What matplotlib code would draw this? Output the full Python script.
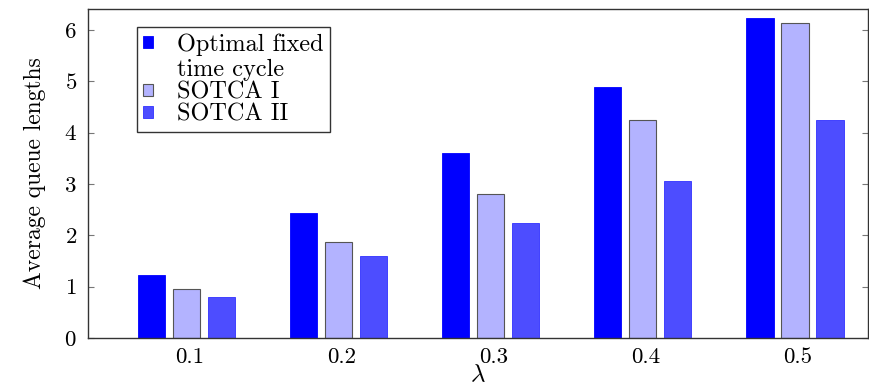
import numpy as np
import matplotlib.pyplot as plt
from matplotlib.patches import Rectangle
from matplotlib.legend_handler import HandlerPatch

plt.rcParams['font.family'] = 'serif'
plt.rcParams['font.serif'] = ['cmr10', 'DejaVu Serif']
plt.rcParams['mathtext.fontset'] = 'cm'
plt.rcParams['axes.formatter.use_mathtext'] = True

lam = [0.1, 0.2, 0.3, 0.4, 0.5]
optimal_fixed = [1.22, 2.43, 3.61, 4.89, 6.24]
sotca_1 = [0.96, 1.87, 2.81, 4.24, 6.13]
sotca_2 = [0.79, 1.59, 2.24, 3.05, 4.24]
labels = ["Optimal fixed\ntime cycle", "SOTCA I", "SOTCA II"]

fig = plt.figure(figsize=(8.69, 3.87), dpi=100)
ax = fig.add_axes([88 / 869, 49 / 387, 780 / 869, 329 / 387])

x = np.array(lam)
w = 0.0178
off = 0.023
b1 = ax.bar(x - off, optimal_fixed, w, color='#0000ff', edgecolor='#0000ff', lw=0.6, label=labels[0])
b2 = ax.bar(x, sotca_1, w, color='#b3b3ff', edgecolor='#555555', lw=0.8, label=labels[1])
b3 = ax.bar(x + off, sotca_2, w, color='#4d4dff', edgecolor='#3030ff', lw=0.6, label=labels[2])

ax.set_xlim(0.0352, 0.548)
ax.set_ylim(0, 6.41)
ax.set_xticks(x + 0.002)
ax.set_xticklabels(["0.1", "0.2", "0.3", "0.4", "0.5"])
ax.set_yticks(range(7))
ax.tick_params(axis='x', length=0, labelsize=16.5, pad=7)
ax.tick_params(axis='y', direction='in', right=True, labelsize=16.5, length=4, color='#777777', pad=8)
for s in ax.spines.values():
    s.set_color('#333333')
    s.set_linewidth(1.0)

ax.set_xlabel(r'$\lambda$', fontsize=18, labelpad=-2)
ax.set_ylabel('Average queue lengths', fontsize=17, labelpad=13)


# the two-line entry keeps its square level with the first line
def top_line_square(legend, orig_handle, xdescent, ydescent, width, height, fontsize):
    return Rectangle((-xdescent, -ydescent + 0.62 * fontsize), width, height)


def from_first_bar(legend_handle, orig_handle):
    legend_handle.update_from(orig_handle.patches[0])


leg = ax.legend(loc='upper left', bbox_to_anchor=(0.063, 0.945), fontsize=17.5,
                fancybox=False, edgecolor='#333333', framealpha=1,
                handlelength=0.4, handleheight=0.4, handletextpad=1.0,
                labelspacing=0.0, borderpad=0.25, borderaxespad=0,
                handler_map={b1: HandlerPatch(patch_func=top_line_square,
                                              update_func=from_first_bar)})
leg.get_frame().set_linewidth(1.0)

fig.savefig('out.png', dpi=100)
